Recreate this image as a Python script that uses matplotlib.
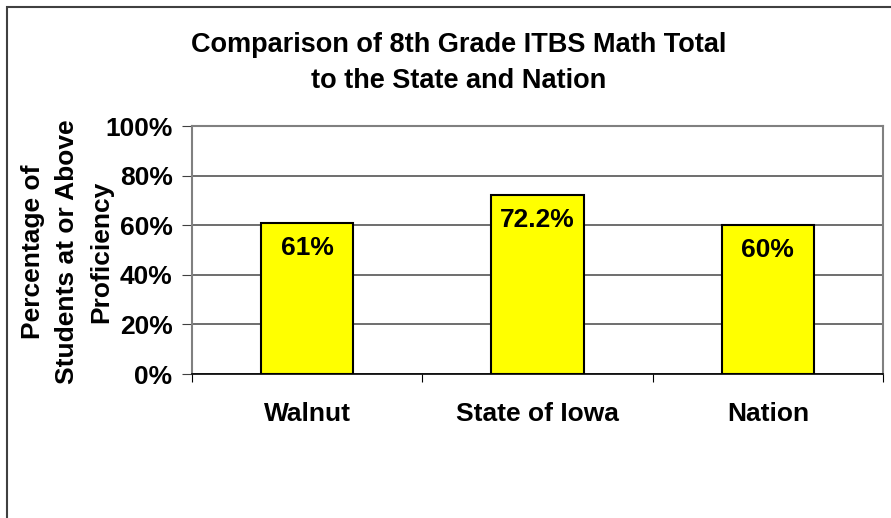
import matplotlib.pyplot as plt
from matplotlib.patches import Rectangle

categorias = ["Walnut", "State of Iowa", "Nation"]
valores = [61, 72.2, 60]
rotulos = ["61%", "72.2%", "60%"]
yticks = [0, 20, 40, 60, 80, 100]

plt.rcParams['font.family'] = ['Liberation Sans', 'DejaVu Sans']
plt.rcParams['font.weight'] = 'bold'

fig = plt.figure(figsize=(8.91, 5.18), dpi=100)
ax = fig.add_axes([192/891, 1 - 374/518, (883-192)/891, (374-126)/518])

# moldura do grafico (cortada a direita e em baixo)
fig.patches.append(Rectangle((7/891, -0.2), 1.5, 1.2 - 7/518,
                             transform=fig.transFigure, fill=False,
                             edgecolor='#404040', linewidth=1.5))

x = list(range(len(categorias)))
ax.bar(x, valores, width=0.4, color='#FFFF00', edgecolor='black',
       linewidth=1.5, zorder=3)

for i in range(len(valores)):
    ax.annotate(rotulos[i], (x[i], valores[i]), xytext=(0, -25),
                textcoords='offset pixels',
                ha='center', va='center', fontsize=19, fontweight='bold',
                zorder=4)

ax.set_xlim(-0.5, 2.5)
ax.set_ylim(0, 100)
ax.set_yticks(yticks)
ax.set_yticklabels([f"{v}%" for v in yticks], fontsize=19, fontweight='bold')
ax.set_xticks([-0.5, 0.5, 1.5, 2.5], minor=False)
ax.set_xticklabels([])
ax.set_xticks(x, minor=True)
ax.set_xticklabels(categorias, minor=True, fontsize=19, fontweight='bold')
ax.tick_params(axis='x', which='minor', length=0, pad=20)
ax.tick_params(axis='x', which='major', length=6, direction='out', color='black')
ax.tick_params(axis='y', length=7, direction='out', pad=7, color='#404040')

ax.grid(axis='y', color='#555555', linewidth=1.2, zorder=0)
for s in ['left', 'right', 'top']:
    ax.spines[s].set_color('#808080')
    ax.spines[s].set_linewidth(1.5)
ax.spines['bottom'].set_color('black')
ax.spines['bottom'].set_linewidth(1.2)

fig.text(67/891, 1 - 252/518, "Percentage of\nStudents at or Above\nProficiency",
         rotation=90, ha='center', va='center', fontsize=19,
         fontweight='bold', linespacing=1.52)

fig.text(459/891, 1 - 62.5/518, "Comparison of 8th Grade ITBS Math Total\nto the State and Nation",
         ha='center', va='center', fontsize=19.5, fontweight='bold', linespacing=1.5)

fig.savefig("out.png", dpi=100)
